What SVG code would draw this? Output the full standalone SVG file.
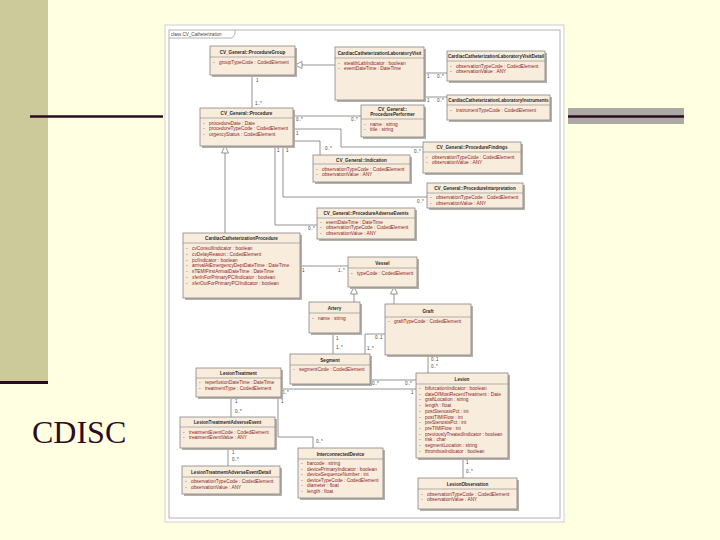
<svg xmlns="http://www.w3.org/2000/svg" width="720" height="540" viewBox="0 0 720 540">
<style>
.sh{fill:#B5B0A9}
.bx{fill:#F8ECDD;stroke:#858585;stroke-width:0.8}
.dv{stroke:#858585;stroke-width:0.6}
.t{font-family:"Liberation Sans",Arial,sans-serif;font-size:4.6px;font-weight:bold;fill:#2A2A2A;text-anchor:middle}
.a{font-family:"Liberation Sans",Arial,sans-serif;font-size:4.8px;fill:#8E2424}
.m{font-family:"Liberation Sans",Arial,sans-serif;font-size:4.5px;fill:#444}
.c{stroke:#7A7A7A;stroke-width:0.8;fill:none}
.g{fill:#FFFFFF;stroke:#7A7A7A;stroke-width:0.8}
</style>
<rect x="0" y="0" width="720" height="540" fill="#FFFFE1"/>
<rect x="0" y="0" width="48" height="381" fill="#CCC99B"/>
<rect x="0" y="381" width="48" height="3" fill="#2D0B1E"/>
<line x1="30" y1="116.5" x2="163" y2="116.5" stroke="#2D0B1E" stroke-width="2.5"/>
<rect x="568" y="108" width="116" height="16" fill="#ADAAA6"/>
<line x1="568" y1="116.5" x2="684" y2="116.5" stroke="#2D0B1E" stroke-width="2.5"/>
<text x="32" y="443" font-family="Liberation Serif,Times New Roman,serif" font-size="32" fill="#2D0B1E">CDISC</text>

<rect x="165" y="25" width="399" height="497" fill="#FFFFFF" stroke="#CFCFCF" stroke-width="1"/>
<rect x="169" y="30" width="391" height="488" fill="none" stroke="#A0A0A0" stroke-width="0.8"/>
<path d="M169,38 H232 L235,34 V30" fill="none" stroke="#A0A0A0" stroke-width="0.8"/>
<text class="m" x="171" y="36">class CV_Catheterization</text>

<g id="connectors">
<path class="c" d="M252,75 V108"/>
<path class="c" d="M302,65 H335"/>
<polygon class="g" points="295,65 302,61.5 302,68.5"/>
<path class="c" d="M424,73 H447"/>
<path class="c" d="M424,97 H447"/>
<path class="c" d="M293,116 H361"/>
<path class="c" d="M293,129 H341 V147 H423"/>
<path class="c" d="M293,141 H320 V155"/>
<path class="c" d="M283,146 V197 H427"/>
<path class="c" d="M275,146 V225 H317"/>
<path class="c" d="M225,153 V233"/>
<polygon class="g" points="225,146 221.5,153 228.5,153"/>
<path class="c" d="M300,266 H348"/>
<path class="c" d="M354,294 V302"/>
<polygon class="g" points="354,287 350.5,294 357.5,294"/>
<path class="c" d="M394,294 V304"/>
<polygon class="g" points="394,287 390.5,294 397.5,294"/>
<path class="c" d="M333,333 V354"/>
<path class="c" d="M385,334 H365 V354"/>
<path class="c" d="M428,355 V373"/>
<path class="c" d="M370,380 H416"/>
<path class="c" d="M281,389 H416"/>
<path class="c" d="M278,397 V437 H313 V448"/>
<path class="c" d="M231,397 V417"/>
<path class="c" d="M228,448 V466"/>
<path class="c" d="M463,458 V478"/>
<text class="m" x="256" y="82">1</text>
<text class="m" x="255" y="105">1..*</text>
<text class="m" x="427" y="78">1</text>
<text class="m" x="437" y="78">0..*</text>
<text class="m" x="427" y="102">1</text>
<text class="m" x="437" y="102">0..*</text>
<text class="m" x="296" y="121">0..*</text>
<text class="m" x="351" y="121">0..*</text>
<text class="m" x="296" y="134.5">1</text>
<text class="m" x="414" y="153">0..*</text>
<text class="m" x="325" y="150">0..*</text>
<text class="m" x="286" y="152">1</text>
<text class="m" x="417" y="203">0..*</text>
<text class="m" x="277" y="152">1</text>
<text class="m" x="308" y="230">0..*</text>
<text class="m" x="302" y="272">1</text>
<text class="m" x="338" y="272">1..*</text>
<text class="m" x="336" y="340">1</text>
<text class="m" x="336" y="349">1..*</text>
<text class="m" x="375" y="339">0..1</text>
<text class="m" x="367" y="350">1..*</text>
<text class="m" x="431" y="361">0..1</text>
<text class="m" x="431" y="368">0..*</text>
<text class="m" x="372" y="385">0..*</text>
<text class="m" x="405" y="385">0..*</text>
<text class="m" x="282" y="394">0..*</text>
<text class="m" x="411" y="394">1</text>
<text class="m" x="281" y="403">1</text>
<text class="m" x="316" y="443">0..*</text>
<text class="m" x="235" y="403">1</text>
<text class="m" x="235" y="413">0..*</text>
<text class="m" x="232" y="454">1</text>
<text class="m" x="232" y="461">0..*</text>
<text class="m" x="466" y="464">1</text>
<text class="m" x="466" y="473">0..*</text>
</g>

<g id="ProcedureGroup">
<rect class="sh" x="212" y="48" width="85" height="29"/><rect class="bx" x="210" y="46" width="85" height="29"/>
<line class="dv" x1="210" y1="57" x2="295" y2="57"/>
<text class="t" x="252.5" y="53.5">CV_General::ProcedureGroup</text>
<text class="a" y="63.5"><tspan x="213">-</tspan><tspan x="219">groupTypeCode : CodedElement</tspan></text>
</g>

<g id="LabVisit">
<rect class="sh" x="337" y="49" width="89" height="53"/><rect class="bx" x="335" y="47" width="89" height="53"/>
<line class="dv" x1="335" y1="58" x2="424" y2="58"/>
<text class="t" x="379.5" y="54.5">CardiacCatheterizationLaboratoryVisit</text>
<text class="a" y="64.5"><tspan x="338">-</tspan><tspan x="344">stealthLabIndicator : boolean</tspan></text>
<text class="a" y="70.3"><tspan x="338">-</tspan><tspan x="344">eventDateTime : DateTime</tspan></text>
</g>

<g id="LabVisitDetail">
<rect class="sh" x="449" y="53" width="98" height="30"/><rect class="bx" x="447" y="51" width="98" height="30"/>
<line class="dv" x1="447" y1="61" x2="545" y2="61"/>
<text class="t" x="496" y="58">CardiacCatheterizationLaboratoryVisitDetail</text>
<text class="a" y="67.5"><tspan x="450">-</tspan><tspan x="456">observationTypeCode : CodedElement</tspan></text>
<text class="a" y="73.3"><tspan x="450">-</tspan><tspan x="456">observationValue : ANY</tspan></text>
</g>

<g id="LabInstruments">
<rect class="sh" x="449" y="97" width="103" height="25"/><rect class="bx" x="447" y="95" width="103" height="25"/>
<line class="dv" x1="447" y1="105" x2="550" y2="105"/>
<text class="t" x="498.5" y="102">CardiacCatheterizationLaboratoryInstruments</text>
<text class="a" y="111.5"><tspan x="450">-</tspan><tspan x="456">instrumentTypeCode : CodedElement</tspan></text>
</g>

<g id="ProcedurePerformer">
<rect class="sh" x="363" y="107" width="63" height="32"/><rect class="bx" x="361" y="105" width="63" height="32"/>
<line class="dv" x1="361" y1="119" x2="424" y2="119"/>
<text class="t" x="392.5" y="110.5">CV_General::</text>
<text class="t" x="392.5" y="116">ProcedurePerformer</text>
<text class="a" y="125.5"><tspan x="364">-</tspan><tspan x="370">name : string</tspan></text>
<text class="a" y="131"><tspan x="364">-</tspan><tspan x="370">title : string</tspan></text>
</g>

<g id="Procedure">
<rect class="sh" x="202" y="110" width="93" height="38"/><rect class="bx" x="200" y="108" width="93" height="38"/>
<line class="dv" x1="200" y1="118" x2="293" y2="118"/>
<text class="t" x="246.5" y="115">CV_General::Procedure</text>
<text class="a" y="124.5"><tspan x="203">-</tspan><tspan x="209">procedureDate : Date</tspan></text>
<text class="a" y="130.3"><tspan x="203">-</tspan><tspan x="209">procedureTypeCode : CodedElement</tspan></text>
<text class="a" y="136.1"><tspan x="203">-</tspan><tspan x="209">urgencyStatus : CodedElement</tspan></text>
</g>

<g id="Indication">
<rect class="sh" x="315" y="157" width="97" height="27"/><rect class="bx" x="313" y="155" width="97" height="27"/>
<line class="dv" x1="313" y1="164" x2="410" y2="164"/>
<text class="t" x="361.5" y="161.5">CV_General::Indication</text>
<text class="a" y="170.5"><tspan x="316">-</tspan><tspan x="322">observationTypeCode : CodedElement</tspan></text>
<text class="a" y="176.3"><tspan x="316">-</tspan><tspan x="322">observationValue : ANY</tspan></text>
</g>

<g id="ProcedureFindings">
<rect class="sh" x="425" y="144" width="98" height="31"/><rect class="bx" x="423" y="142" width="98" height="31"/>
<line class="dv" x1="423" y1="152" x2="521" y2="152"/>
<text class="t" x="472" y="149">CV_General::ProcedureFindings</text>
<text class="a" y="158.5"><tspan x="426">-</tspan><tspan x="432">observationTypeCode : CodedElement</tspan></text>
<text class="a" y="164.3"><tspan x="426">-</tspan><tspan x="432">observationValue : ANY</tspan></text>
</g>

<g id="ProcedureInterpretation">
<rect class="sh" x="429" y="185" width="96" height="25"/><rect class="bx" x="427" y="183" width="96" height="25"/>
<line class="dv" x1="427" y1="193" x2="523" y2="193"/>
<text class="t" x="475" y="190">CV_General::ProcedureInterpretation</text>
<text class="a" y="199"><tspan x="430">-</tspan><tspan x="436">observationTypeCode : CodedElement</tspan></text>
<text class="a" y="204.6"><tspan x="430">-</tspan><tspan x="436">observationValue : ANY</tspan></text>
</g>

<g id="ProcedureAdverseEvents">
<rect class="sh" x="319" y="210" width="98" height="31"/><rect class="bx" x="317" y="208" width="98" height="31"/>
<line class="dv" x1="317" y1="218" x2="415" y2="218"/>
<text class="t" x="366" y="215">CV_General::ProcedureAdverseEvents</text>
<text class="a" y="223.5"><tspan x="320">-</tspan><tspan x="326">eventDateTime : DateTime</tspan></text>
<text class="a" y="229.3"><tspan x="320">-</tspan><tspan x="326">observationTypeCode : CodedElement</tspan></text>
<text class="a" y="235.1"><tspan x="320">-</tspan><tspan x="326">observationValue : ANY</tspan></text>
</g>

<g id="CardiacCatheterizationProcedure">
<rect class="sh" x="185" y="235" width="117" height="65"/><rect class="bx" x="183" y="233" width="117" height="65"/>
<line class="dv" x1="183" y1="243" x2="300" y2="243"/>
<text class="t" x="241.5" y="240">CardiacCatheterizationProcedure</text>
<text class="a" y="250"><tspan x="186">-</tspan><tspan x="192">cvConsultIndicator : boolean</tspan></text>
<text class="a" y="255.8"><tspan x="186">-</tspan><tspan x="192">cvDelayReason : CodedElement</tspan></text>
<text class="a" y="261.6"><tspan x="186">-</tspan><tspan x="192">pciIndicator : boolean</tspan></text>
<text class="a" y="267.4"><tspan x="186">-</tspan><tspan x="192">arrivalAtEmergencyDeptDateTime : DateTime</tspan></text>
<text class="a" y="273.2"><tspan x="186">-</tspan><tspan x="192">sTEMIFirstArrivalDateTime : DateTime</tspan></text>
<text class="a" y="279"><tspan x="186">-</tspan><tspan x="192">xferInForPrimaryPCIIndicator : boolean</tspan></text>
<text class="a" y="284.8"><tspan x="186">-</tspan><tspan x="192">xferOutForPrimaryPCIIndicator : boolean</tspan></text>
</g>

<g id="Vessel">
<rect class="sh" x="350" y="259" width="69" height="30"/><rect class="bx" x="348" y="257" width="69" height="30"/>
<line class="dv" x1="348" y1="268" x2="417" y2="268"/>
<text class="t" x="382.5" y="265">Vessel</text>
<text class="a" y="274.5"><tspan x="351">-</tspan><tspan x="357">typeCode : CodedElement</tspan></text>
</g>

<g id="Artery">
<rect class="sh" x="311" y="304" width="51" height="31"/><rect class="bx" x="309" y="302" width="51" height="31"/>
<line class="dv" x1="309" y1="313" x2="360" y2="313"/>
<text class="t" x="334.5" y="310">Artery</text>
<text class="a" y="319.5"><tspan x="312">-</tspan><tspan x="318">name : string</tspan></text>
</g>

<g id="Graft">
<rect class="sh" x="387" y="306" width="86" height="51"/><rect class="bx" x="385" y="304" width="86" height="51"/>
<line class="dv" x1="385" y1="317" x2="471" y2="317"/>
<text class="t" x="428" y="313">Graft</text>
<text class="a" y="323"><tspan x="388">-</tspan><tspan x="394">graftTypeCode : CodedElement</tspan></text>
</g>

<g id="Segment">
<rect class="sh" x="292" y="356" width="80" height="30"/><rect class="bx" x="290" y="354" width="80" height="30"/>
<line class="dv" x1="290" y1="365" x2="370" y2="365"/>
<text class="t" x="330" y="362">Segment</text>
<text class="a" y="371"><tspan x="293">-</tspan><tspan x="299">segmentCode : CodedElement</tspan></text>
</g>

<g id="Lesion">
<rect class="sh" x="418" y="375" width="92" height="85"/><rect class="bx" x="416" y="373" width="92" height="85"/>
<line class="dv" x1="416" y1="384" x2="508" y2="384"/>
<text class="t" x="462" y="381">Lesion</text>
<text class="a" y="390"><tspan x="419">-</tspan><tspan x="425">bifurcationIndicator : boolean</tspan></text>
<text class="a" y="395.7"><tspan x="419">-</tspan><tspan x="425">dateOfMostRecentTreatment : Date</tspan></text>
<text class="a" y="401.4"><tspan x="419">-</tspan><tspan x="425">graftLocation : string</tspan></text>
<text class="a" y="407.1"><tspan x="419">-</tspan><tspan x="425">length : float</tspan></text>
<text class="a" y="412.8"><tspan x="419">-</tspan><tspan x="425">postStenosisPct : int</tspan></text>
<text class="a" y="418.5"><tspan x="419">-</tspan><tspan x="425">postTIMIFlow : int</tspan></text>
<text class="a" y="424.2"><tspan x="419">-</tspan><tspan x="425">preStenosisPct : int</tspan></text>
<text class="a" y="429.9"><tspan x="419">-</tspan><tspan x="425">preTIMIFlow : int</tspan></text>
<text class="a" y="435.6"><tspan x="419">-</tspan><tspan x="425">previouslyTreatedIndicator : boolean</tspan></text>
<text class="a" y="441.3"><tspan x="419">-</tspan><tspan x="425">risk : char</tspan></text>
<text class="a" y="447"><tspan x="419">-</tspan><tspan x="425">segmentLocation : string</tspan></text>
<text class="a" y="452.7"><tspan x="419">-</tspan><tspan x="425">thrombusIndicator : boolean</tspan></text>
</g>

<g id="LesionObservation">
<rect class="sh" x="420" y="480" width="99" height="31"/><rect class="bx" x="418" y="478" width="99" height="31"/>
<line class="dv" x1="418" y1="489" x2="517" y2="489"/>
<text class="t" x="467.5" y="486">LesionObservation</text>
<text class="a" y="495.5"><tspan x="421">-</tspan><tspan x="427">observationTypeCode : CodedElement</tspan></text>
<text class="a" y="501.3"><tspan x="421">-</tspan><tspan x="427">observationValue : ANY</tspan></text>
</g>

<g id="LesionTreatment">
<rect class="sh" x="198" y="370" width="85" height="29"/><rect class="bx" x="196" y="368" width="85" height="29"/>
<line class="dv" x1="196" y1="378" x2="281" y2="378"/>
<text class="t" x="238.5" y="375">LesionTreatment</text>
<text class="a" y="384"><tspan x="199">-</tspan><tspan x="205">reperfusionDateTime : DateTime</tspan></text>
<text class="a" y="389.8"><tspan x="199">-</tspan><tspan x="205">treatmentType : CodedElement</tspan></text>
</g>

<g id="LesionTreatmentAdverseEvent">
<rect class="sh" x="182" y="419" width="95" height="31"/><rect class="bx" x="180" y="417" width="95" height="31"/>
<line class="dv" x1="180" y1="427" x2="275" y2="427"/>
<text class="t" x="227.5" y="424">LesionTreatmentAdverseEvent</text>
<text class="a" y="433.5"><tspan x="183">-</tspan><tspan x="189">treatmentEventCode : CodedElement</tspan></text>
<text class="a" y="439.3"><tspan x="183">-</tspan><tspan x="189">treatmentEventValue : ANY</tspan></text>
</g>

<g id="LesionTreatmentAdverseEventDetail">
<rect class="sh" x="184" y="468" width="98" height="28"/><rect class="bx" x="182" y="466" width="98" height="28"/>
<line class="dv" x1="182" y1="477" x2="280" y2="477"/>
<text class="t" x="231" y="473.5">LesionTreatmentAdverseEventDetail</text>
<text class="a" y="483"><tspan x="185">-</tspan><tspan x="191">observationTypeCode : CodedElement</tspan></text>
<text class="a" y="488.8"><tspan x="185">-</tspan><tspan x="191">observationValue : ANY</tspan></text>
</g>

<g id="InterconnectedDevice">
<rect class="sh" x="300" y="450" width="85" height="50"/><rect class="bx" x="298" y="448" width="85" height="50"/>
<line class="dv" x1="298" y1="459" x2="383" y2="459"/>
<text class="t" x="340.5" y="456">InterconnectedDevice</text>
<text class="a" y="465"><tspan x="301">-</tspan><tspan x="307">barcode : string</tspan></text>
<text class="a" y="470.6"><tspan x="301">-</tspan><tspan x="307">devicePrimaryIndicator : boolean</tspan></text>
<text class="a" y="476.2"><tspan x="301">-</tspan><tspan x="307">deviceSequenceNumber : int</tspan></text>
<text class="a" y="481.8"><tspan x="301">-</tspan><tspan x="307">deviceTypeCode : CodedElement</tspan></text>
<text class="a" y="487.4"><tspan x="301">-</tspan><tspan x="307">diameter : float</tspan></text>
<text class="a" y="493"><tspan x="301">-</tspan><tspan x="307">length : float</tspan></text>
</g>
</svg>
